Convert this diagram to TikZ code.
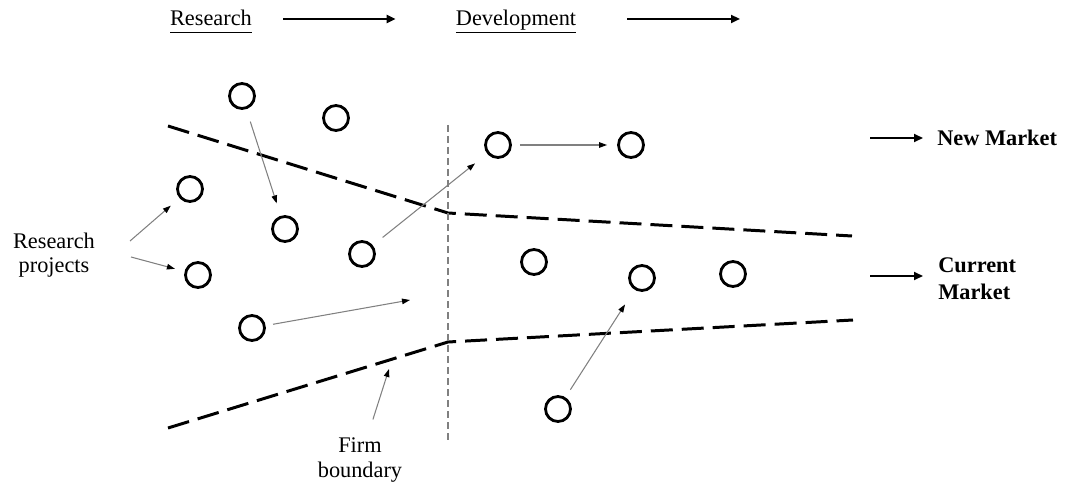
\documentclass[tikz,border=0pt]{standalone}
\usepackage{fontspec}
\setmainfont{Liberation Serif}
\usetikzlibrary{arrows.meta}
\definecolor{ink}{HTML}{000000}
\definecolor{ash}{HTML}{808080}

\begin{document}
\begin{tikzpicture}[
  >=Stealth,
  font=\fontsize{12.7}{14}\selectfont,
  project/.style={
    circle,
    draw=ink,
    line width=1.6pt,
    minimum size=.5cm,
    inner sep=0pt
  },
  stage/.style={
    ink,
    line width=1.4pt,
    -{Triangle[length=1.8mm,width=1.6mm]}
  },
  nudge/.style={
    ash,
    line width=.6pt,
    -{Triangle[length=1.6mm,width=1.1mm,color=ink]}
  },
  boundary/.style={
    ink,
    line width=1.7pt,
    dash pattern=on .44cm off .18cm
  },
  note/.style={
    inner sep=0pt,
    align=center
  }
]

\useasboundingbox (0,0) rectangle (21.38,9.72);

% stages along the top
\node[note] (research) at (4.22,9.28) {\underline{Research\vphantom{p}}};
\node[note] (develop) at (10.32,9.28) {\underline{Development}};
\coordinate (onward) at (14.80,9.34);

\draw[stage,shorten <=.62cm,shorten >=1.20cm]
  (research.east |- onward) -- (develop.west |- onward);
\draw[stage,shorten <=1.02cm]
  (develop.east |- onward) -- (onward);

% firm boundary
\draw[boundary] (3.36,7.20) -- (8.96,5.46) -- (17.04,5.00);
\draw[boundary] (3.36,1.16) -- (8.96,2.88) -- (17.06,3.32);
\draw[ash,line width=.6pt,dash pattern=on .14cm off .08cm]
  (8.96,7.22) -- (8.96,.86);

% research projects
\node[project] (c1)  at (4.84,7.80) {};
\node[project] (c2)  at (6.72,7.36) {};
\node[project] (c3)  at (3.80,5.94) {};
\node[project] (c4)  at (5.70,5.14) {};
\node[project] (c5)  at (7.24,4.64) {};
\node[project] (c6)  at (3.96,4.22) {};
\node[project] (c7)  at (5.04,3.16) {};
\node[project] (c8)  at (9.96,6.82) {};
\node[project] (c9)  at (12.62,6.82) {};
\node[project] (c10) at (10.68,4.48) {};
\node[project] (c11) at (12.84,4.16) {};
\node[project] (c12) at (14.66,4.24) {};
\node[project] (c13) at (11.16,1.54) {};

\node[note] (projects) at (1.08,4.62) {Research\\projects};
\node[note] (firm) at (7.20,.52) {Firm\\boundary};

\coordinate (rp-up) at (2.60,4.90);
\coordinate (rp-dn) at (2.62,4.58);
\coordinate (drift) at (8.20,3.72);
\coordinate (edge) at (7.78,2.34);

\draw[nudge,shorten >=.23cm] (rp-up) -- (c3);
\draw[nudge,shorten >=.20cm] (rp-dn) -- (c6);
\draw[nudge,shorten <=.26cm,shorten >=.26cm] (c1) -- (c4);
\draw[nudge,shorten <=.25cm,shorten >=.31cm] (c5) -- (c8);
\draw[nudge,shorten <=.16cm,shorten >=.20cm] (c8) -- (c9);
\draw[nudge,shorten <=.15cm] (c7) -- (drift);
\draw[nudge,shorten <=.18cm,shorten >=.35cm] (c13) -- (c11);
\draw[nudge,shorten <=.38cm] (firm) -- (edge);

% markets
\node[note,anchor=west,font=\fontsize{12.7}{14}\selectfont\bfseries]
  (newmkt) at (18.74,6.96) {New Market};
\node[note,anchor=west,align=left,
      font=\fontsize{12.7}{15.3}\selectfont\bfseries]
  (curmkt) at (18.76,4.15) {Current\\Market};

\coordinate (new-in) at (17.40,6.96);
\coordinate (cur-in) at (17.40,4.20);
\draw[stage,line width=1.2pt,shorten >=.28cm]
  (new-in) -- (newmkt.west);
\draw[stage,line width=1.2pt,shorten >=.30cm]
  (cur-in) -- (curmkt.west |- cur-in);

\end{tikzpicture}
\end{document}
